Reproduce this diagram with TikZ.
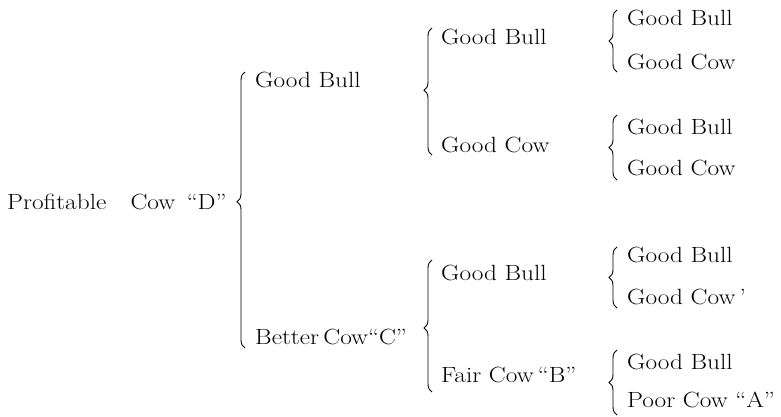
\documentclass[tikz,border=0pt]{standalone}
\usepackage{graphicx}
\usetikzlibrary{decorations.pathreplacing}
\newcommand{\widetxt}[1]{\scalebox{1.15}[1]{#1}}
\begin{document}
\begin{tikzpicture}[x=1pt,y=-1pt,
  lbl/.style={anchor=west, inner sep=0pt, font=\fontsize{22}{26}\selectfont},
  brc/.style={decorate, decoration={brace, amplitude=8pt, aspect=#1}, line width=0.9pt},
  brc/.default=0.5]
\useasboundingbox (0,0) rectangle (781,416);

% text nodes
\node[lbl] (root) at (7,202) {\widetxt{Profitable\hspace{21pt}Cow\hspace{10pt}``D''}};
\node[lbl] (a)  at (255,80)  {\widetxt{Good Bull}};
\node[lbl] (b)  at (255,337) {\widetxt{Better\,Cow``C''}};
\node[lbl] (aa) at (441,37)  {\widetxt{Good Bull}};
\node[lbl] (ab) at (441,145) {\widetxt{Good Cow}};
\node[lbl] (ba) at (441,273) {\widetxt{Good Bull}};
\node[lbl] (bb) at (441,375) {\widetxt{Fair Cow\,``B''}};
\node[lbl] (aaa) at (627,18)  {\widetxt{Good Bull}};
\node[lbl] (aab) at (627,62)  {\widetxt{Good Cow}};
\node[lbl] (aba) at (627,127) {\widetxt{Good Bull}};
\node[lbl] (abb) at (627,168) {\widetxt{Good Cow}};
\node[lbl] (baa) at (627,255) {\widetxt{Good Bull}};
\node[lbl] (bab) at (627,297) {\widetxt{Good Cow\,'}};
\node[lbl] (bba) at (627,362) {\widetxt{Good Bull}};
\node[lbl] (bbb) at (627,400) {\widetxt{Poor Cow ``A''}};

% brace end points
\coordinate (m1) at (245,348);  \coordinate (m2) at (245,72);
\coordinate (p1) at (432,155);  \coordinate (p2) at (432,28);
\coordinate (q1) at (432,392);  \coordinate (q2) at (432,260);
\coordinate (r1) at (617,72);   \coordinate (r2) at (617,10);
\coordinate (s1) at (617,180);  \coordinate (s2) at (617,115);
\coordinate (t1) at (617,308);  \coordinate (t2) at (617,247);
\coordinate (u1) at (617,415);  \coordinate (u2) at (617,350);

\draw[brc=0.53] (m1) -- (m2);
\draw[brc=0.51] (p1) -- (p2);
\draw[brc=0.485] (q1) -- (q2);
\draw[brc] (r1) -- (r2);
\draw[brc] (s1) -- (s2);
\draw[brc] (t1) -- (t2);
\draw[brc] (u1) -- (u2);
\end{tikzpicture}
\end{document}
